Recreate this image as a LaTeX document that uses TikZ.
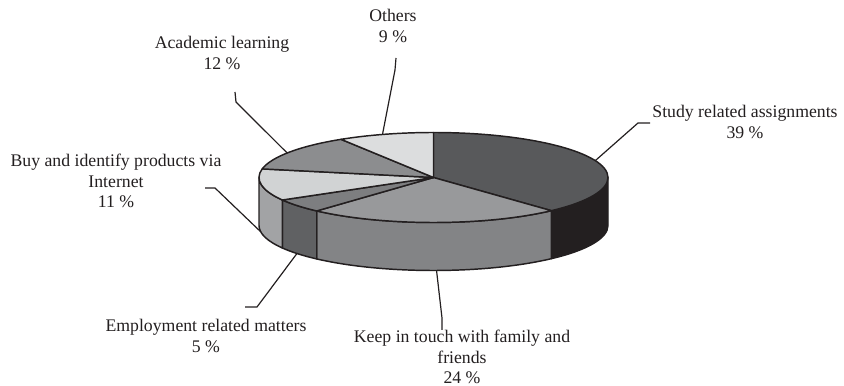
\documentclass[tikz,border=0pt]{standalone}
\usepackage{fontspec}
\setmainfont{Liberation Serif}
\usetikzlibrary{calc}
\definecolor{ink}{HTML}{231F20}
\definecolor{studytop}{HTML}{58595B}
\definecolor{studyside}{HTML}{231F20}
\definecolor{keeptop}{HTML}{98999B}
\definecolor{keepside}{HTML}{838486}
\definecolor{emptop}{HTML}{7D7E80}
\definecolor{empside}{HTML}{606163}
\definecolor{buytop}{HTML}{D1D3D4}
\definecolor{buyside}{HTML}{A2A3A5}
\definecolor{acatop}{HTML}{8C8D8F}
\definecolor{othtop}{HTML}{DCDDDE}
\begin{document}
\begin{tikzpicture}[x=0.75pt,y=0.75pt,
  edge/.style={draw=ink, line width=1.1pt, line join=round},
  leader/.style={draw=ink, line width=0.9pt, line join=miter},
  lbl/.style={align=center, font=\fontsize{13.3}{15.6}\selectfont, text=ink, inner sep=0pt}]
\useasboundingbox (0,0) rectangle (844,386);
\coordinate (c) at (433.5,208.5);
\coordinate (cb) at (433.5,160.5);
% side faces
\newcommand{\sideface}[3]{%
  \path[edge, fill=#3] ($(c)+(#1:130.875pt and 33.75pt)$) arc[start angle=#1, end angle=#2, x radius=130.875pt, y radius=33.75pt]
    -- ($(cb)+(#2:130.875pt and 33.75pt)$) arc[start angle=#2, end angle=#1, x radius=130.875pt, y radius=33.75pt] -- cycle;}
\sideface{0}{-47.5}{studyside}
\sideface{-47.5}{-132}{keepside}
\sideface{-132}{-150}{empside}
\sideface{-150}{-180}{buyside}
% top sectors
\newcommand{\topsector}[3]{%
  \path[edge, fill=#3] (c) -- ($(c)+(#1:130.875pt and 33.75pt)$) arc[start angle=#1, end angle=#2, x radius=130.875pt, y radius=33.75pt] -- cycle;}
\topsector{90}{-47.5}{studytop}
\topsector{-47.5}{-132}{keeptop}
\topsector{-132}{-150}{emptop}
\topsector{-150}{-191}{buytop}
\topsector{169}{122}{acatop}
\topsector{122}{90}{othtop}
% labels
\node[lbl] (lstudy) at (745,264) {Study related assignments\\39 \%};
\node[lbl] (lothers) at (393,360) {Others\\9 \%};
\node[lbl] (lacad) at (222,333) {Academic learning\\12 \%};
\node[lbl] (lbuy) at (116,205) {Buy and identify products via\\Internet\\11 \%};
\node[lbl] (lemp) at (206,50) {Employment related matters\\5 \%};
\node[lbl] (lkeep) at (462,29) {Keep in touch with family and\\friends\\24 \%};
% leader lines
\coordinate (sA) at (650,263); \coordinate (sB) at (638,263); \coordinate (sC) at ($(c)+(22:130.875pt and 33.75pt)$);
\coordinate (oA) at (396,328); \coordinate (oB) at (395,316); \coordinate (oC) at ($(c)+(107:130.875pt and 33.75pt)$);
\coordinate (aA) at (235,294); \coordinate (aB) at (236,284); \coordinate (aC) at ($(c)+(147:130.875pt and 33.75pt)$);
\coordinate (bA) at (205,198); \coordinate (bB) at (215,198); \coordinate (bC) at ($(cb)+(-172:130.875pt and 33.75pt)$);
\coordinate (eA) at (245,79); \coordinate (eB) at (257,79); \coordinate (eC) at ($(cb)+(-141.5:130.875pt and 33.75pt)$);
\coordinate (kA) at (442,56); \coordinate (kB) at (442,68); \coordinate (kC) at ($(cb)+(-89:130.875pt and 33.75pt)$);
\draw[leader] (sA) -- (sB) -- (sC);
\draw[leader] (oA) -- (oB) -- (oC);
\draw[leader] (aA) -- (aB) -- (aC);
\draw[leader] (bA) -- (bB) -- (bC);
\draw[leader] (eA) -- (eB) -- (eC);
\draw[leader] (kA) -- (kB) -- (kC);
\end{tikzpicture}
\end{document}
